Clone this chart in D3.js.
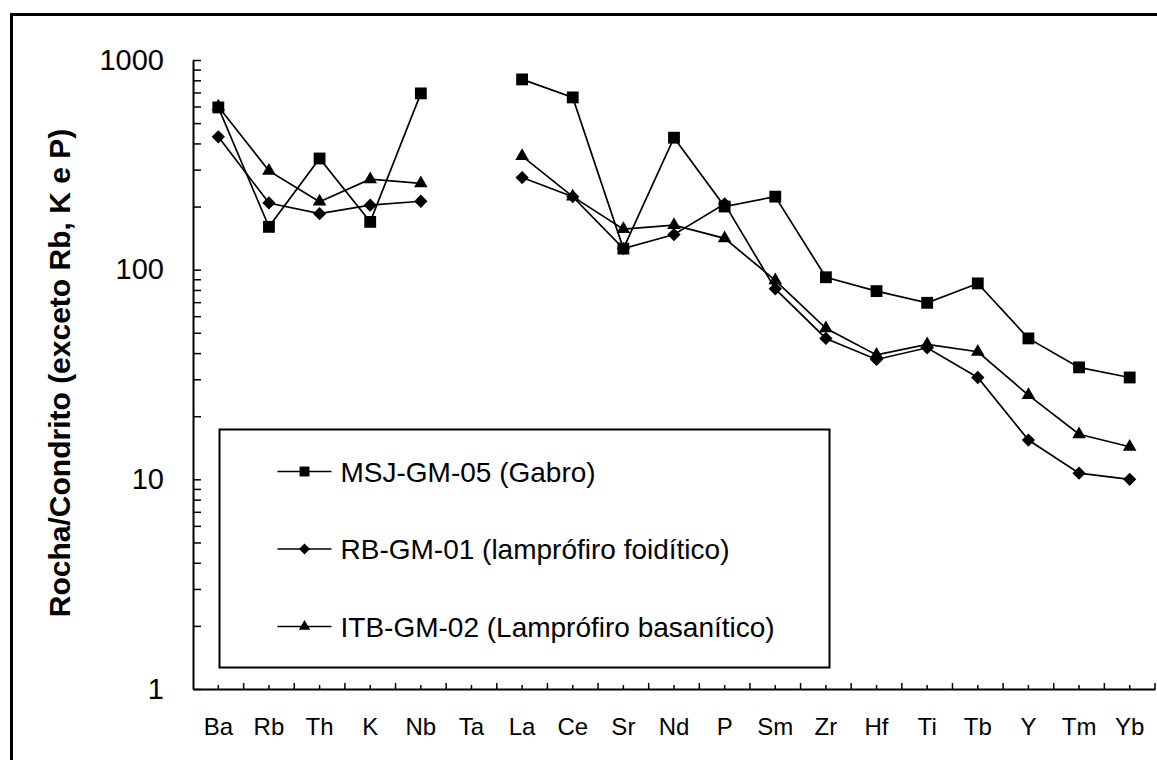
<!DOCTYPE html>
<html lang="pt">
<head>
    <meta charset="UTF-8">
    <title>Rocha/Condrito</title>
    <script src="https://d3js.org/d3.v7.min.js"></script>
    <style>
        body { margin: 0; background: #fff; }
        text { font-family: "Liberation Sans", Arial, sans-serif; fill: #000; }
    </style>
</head>
<body>
<div id="main"></div>
<script>
    // elementos (eixo x)
    const elements = ["Ba", "Rb", "Th", "K", "Nb", "Ta", "La", "Ce", "Sr", "Nd", "P", "Sm", "Zr", "Hf", "Ti", "Tb", "Y", "Tm", "Yb"]

    // valores normalizados ao condrito (Ta sem dado)
    const MSJ_GM_05 = [594, 160, 339, 169, 693, null, 808, 663, 126, 426, 200, 223, 92, 79, 69.5, 86, 47, 34.2, 30.6]
    const RB_GM_01 = [430, 208, 185, 203, 212, null, 275, 223, 126, 147, 206, 81, 47, 37.3, 42.4, 30.6, 15.4, 10.7, 10.0]
    const ITB_GM_02 = [600, 296, 211, 270, 258, null, 348, 223, 156, 163, 141, 89, 52.5, 39.2, 44, 40.6, 25.2, 16.4, 14.3]

    const seriesNames = ["MSJ-GM-05 (Gabro)", "RB-GM-01 (lamprófiro foidítico)", "ITB-GM-02 (Lamprófiro basanítico)"]
    const yTickLabels = [1, 10, 100, 1000]

    let margin = {top: 60, right: 2, bottom: 71, left: 193},
        width = 1157 - margin.left - margin.right,
        height = 760 - margin.top - margin.bottom;

    let svg = d3.select("#main")
        .append("svg")
        .attr("id", "svg")
        .attr("width", 1157)
        .attr("height", 760)

    // moldura externa
    svg.append("rect")
        .attr("x", 11.5).attr("y", 14.5)
        .attr("width", 1200).attr("height", 800)
        .attr("fill", "none")
        .attr("stroke", "#000")
        .attr("stroke-width", 3)

    let chart = svg.append("g")
        .attr("transform", "translate(" + margin.left + "," + margin.top + ")");

    let XScale = d3.scaleBand()
        .domain(elements)
        .range([0, width])

    let YScale = d3.scaleLog()
        .domain([1, 1000])
        .range([height, 0])

    // ticks menores do log
    let yTicks = []
    yTickLabels.forEach(function (d) {
        for (let k = 1; k < 10; k++) {
            if (d * k <= 1000) yTicks.push(d * k)
        }
    })

    let y_axis = d3.axisLeft()
        .scale(YScale)
        .tickValues(yTicks)
        .tickSizeInner(-8)
        .tickSizeOuter(0)
        .tickPadding(29)
        .tickFormat(d => yTickLabels.indexOf(d) >= 0 ? d : "")

    let yg = chart.append("g").call(y_axis)
    yg.select(".domain").attr("stroke-width", 2)
    yg.selectAll(".tick line").attr("stroke-width", 1.5)
    yg.selectAll("text").style("font-size", "29px").attr("fill", "#000")

    let x_axis = d3.axisBottom()
        .scale(XScale)
        .tickSizeInner(-4)
        .tickSizeOuter(0)
        .tickPadding(29)

    let xg = chart.append("g")
        .attr("transform", "translate(0," + height + ")")
        .call(x_axis)
    xg.select(".domain").attr("stroke-width", 2)
    xg.selectAll(".tick line").attr("stroke-width", 1.5)
    xg.selectAll("text").style("font-size", "24px").attr("fill", "#000")

    // ticks entre categorias
    xg.selectAll(".sep")
        .data(elements)
        .enter()
        .append("line")
        .attr("class", "sep")
        .attr("x1", d => XScale(d) + XScale.bandwidth())
        .attr("x2", d => XScale(d) + XScale.bandwidth())
        .attr("y1", 0)
        .attr("y2", -6)
        .attr("stroke", "#000")
        .attr("stroke-width", 1.5)

    let series = [
        {name: seriesNames[1], values: RB_GM_01, symbol: d3.symbolSquare, size: 88, rotate: 45},
        {name: seriesNames[2], values: ITB_GM_02, symbol: d3.symbolTriangle, size: 80, rotate: 0},
        {name: seriesNames[0], values: MSJ_GM_05, symbol: d3.symbolSquare, size: 140, rotate: 0}
    ]

    let line = d3.line()
        .defined(d => d != null)
        .x((d, i) => XScale(elements[i]) + XScale.bandwidth() / 2)
        .y(d => YScale(d))

    series.forEach(function (s) {
        chart.append("path")
            .datum(s.values)
            .attr("d", line)
            .attr("fill", "none")
            .attr("stroke", "#000")
            .attr("stroke-width", 1.7)
    })

    series.forEach(function (s) {
        chart.append("g").selectAll("path")
            .data(s.values.map((v, i) => ({v: v, c: elements[i]})).filter(d => d.v != null))
            .enter()
            .append("path")
            .attr("d", d3.symbol().type(s.symbol).size(s.size))
            .attr("transform", d => `translate(${XScale(d.c) + XScale.bandwidth() / 2},${YScale(d.v)}) rotate(${s.rotate})`)
            .attr("fill", "#000")
    })

    // legenda
    let legend = svg.append("g").attr("transform", "translate(219.5, 429.5)")
    legend.append("rect")
        .attr("width", 610)
        .attr("height", 238)
        .attr("fill", "#fff")
        .attr("stroke", "#000")
        .attr("stroke-width", 2)

    let legendItems = [series[2], series[0], series[1]]
    let rows = legend.selectAll(".row")
        .data(legendItems)
        .enter()
        .append("g")
        .attr("transform", (d, i) => `translate(0, ${42 + i * 77.5})`)

    rows.append("path")
        .attr("d", "M 58,0 L 112,0")
        .attr("stroke", "#000")
        .attr("stroke-width", 1.7)
    rows.append("path")
        .attr("d", d => d3.symbol().type(d.symbol).size(d.size * 0.7)())
        .attr("transform", d => `translate(85,0) rotate(${d.rotate})`)
        .attr("fill", "#000")
    rows.append("text")
        .attr("x", 121)
        .attr("y", 10)
        .style("font-size", "28px")
        .text(d => d.name)

    // titulo do eixo y
    svg.append("text")
        .attr("transform", "translate(70, 373) rotate(-90)")
        .attr("text-anchor", "middle")
        .style("font-size", "30px")
        .style("font-weight", "bold")
        .text("Rocha/Condrito (exceto Rb, K e P)")
</script>
</body>
</html>
